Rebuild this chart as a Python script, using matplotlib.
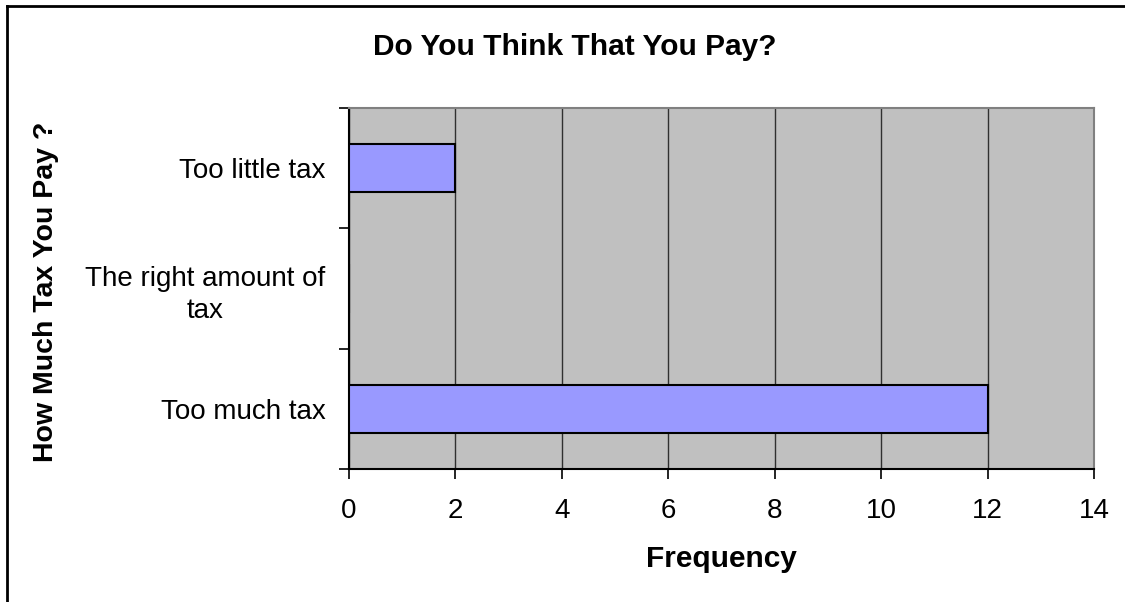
import numpy as np
import matplotlib.pyplot as plt
from matplotlib.lines import Line2D

plt.rcParams['font.family'] = ['Liberation Sans', 'DejaVu Sans']

# Survey answers, listed bottom to top
categories = ["Too much tax", "The right amount of\ntax", "Too little tax"]
counts = [12, 0, 2]
x_ticks = [0, 2, 4, 6, 8, 10, 12, 14]

W, H = 1125, 602
fig = plt.figure(figsize=(W / 100, H / 100), dpi=100)
ax = fig.add_axes([349 / W, 1 - 469 / H, (1094 - 349) / W, (469 - 108) / H])

ax.set_facecolor('#C0C0C0')
pos = np.arange(len(categories))
ax.barh(pos, counts, height=0.4, color='#9999FF', edgecolor='black', linewidth=1.5, zorder=3)

ax.set_xlim(0, 14)
ax.set_ylim(-0.5, len(categories) - 0.5)
ax.set_xticks(x_ticks)
ax.set_xticklabels([str(t) for t in x_ticks], fontsize=20)
ax.xaxis.grid(True, color='#303030', linewidth=1, zorder=1)
ax.set_axisbelow(True)

# category labels sit between the boundary ticks
ax.set_yticks(np.arange(-0.5, len(categories), 1.0))
ax.set_yticklabels([])
ax.set_yticks(pos, minor=True)
ax.set_yticklabels(categories, minor=True, fontsize=20, ha='right',
                   multialignment='center', linespacing=1.3)
ax.tick_params(axis='y', which='minor', length=0, pad=17)
ax.tick_params(axis='y', which='major', length=7, width=1.2, direction='out')
ax.tick_params(axis='x', length=7, width=1.2, direction='out', pad=14)

for s in ['top', 'right']:
    ax.spines[s].set_color('#808080')
    ax.spines[s].set_linewidth(1.5)
for s in ['left', 'bottom']:
    ax.spines[s].set_color('black')
    ax.spines[s].set_linewidth(1.5)

ax.set_xlabel("Frequency", fontsize=21.5, fontweight='bold', labelpad=15)
fig.text(46 / W, 1 - 292 / H, "How Much Tax You Pay ?", rotation=90, fontsize=20.5,
         fontweight='bold', ha='center', va='center')
fig.text(575 / W, 1 - 47 / H, "Do You Think That You Pay?", fontsize=21.5,
         fontweight='bold', ha='center', va='center')

# chart frame on the left and top
fig.add_artist(Line2D([7 / W, 7 / W], [0, 1 - 6 / H], color='black', linewidth=2,
                      transform=fig.transFigure))
fig.add_artist(Line2D([7 / W, 1], [1 - 6 / H, 1 - 6 / H], color='black', linewidth=2,
                      transform=fig.transFigure))

fig.savefig('out.png', dpi=100)
